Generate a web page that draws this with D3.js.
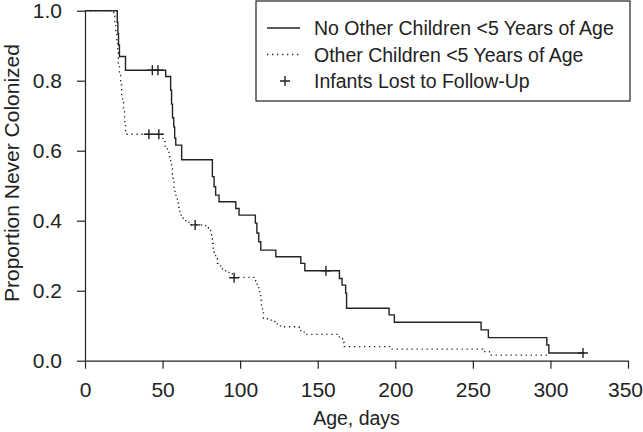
<!DOCTYPE html>
<html><head><meta charset="utf-8">
<script src="https://cdn.jsdelivr.net/npm/d3@7"></script>
<style>
body{margin:0;background:#fff}
text{font-family:"Liberation Sans",Arial,Helvetica,sans-serif;fill:#222}
</style>
</head><body>
<svg id="c" width="643" height="432"></svg>
<script>
// Kaplan-Meier step data (day at which the curve steps -> new proportion)
const noOtherTimes = [0,20.8,21.2,21.6,22.2,26.1,52.0,55.2,55.8,56.4,57.2,57.8,58.5,62.3,82.1,83.2,84.2,86.4,97.2,99.3,109.8,110.8,112.0,113.3,123.0,139.1,141.7,164.0,165.7,168.0,168.6,196.0,199.4,255.3,260.0,297.7,299.0];
const noOtherSurv  = [1,0.967,0.934,0.902,0.869,0.830,0.812,0.773,0.733,0.694,0.668,0.636,0.616,0.574,0.526,0.497,0.473,0.454,0.435,0.416,0.393,0.365,0.340,0.316,0.297,0.278,0.257,0.235,0.216,0.193,0.150,0.131,0.110,0.088,0.066,0.045,0.022];
const noOtherEnd = 322;
const noOtherCensorDays = [43.4,47.0,155.3,321.0];
const noOtherCensorSurv = [0.830,0.830,0.257,0.022];

const otherTimes = [0,18.6,19.2,19.8,20.5,21.1,21.5,22.2,23.0,23.6,24.2,24.8,25.5,26.2,50.2,51.6,53.1,54.1,55.2,55.8,56.3,56.8,57.3,58.0,58.6,59.5,60.4,61.2,62.0,62.7,64.9,67.0,77.8,79.5,81.0,81.6,82.1,82.7,83.2,84.2,85.3,86.4,88.6,90.7,92.8,95.0,110.0,111.0,112.0,112.6,113.3,113.8,114.4,115.0,117.6,121.5,124.0,126.0,138.0,141.3,164.0,166.0,167.0,197.0,256.4,260.7];
const otherSurv  = [1,0.985,0.962,0.938,0.910,0.882,0.850,0.815,0.788,0.760,0.738,0.711,0.683,0.647,0.626,0.613,0.602,0.583,0.564,0.548,0.531,0.512,0.493,0.478,0.464,0.450,0.438,0.426,0.416,0.407,0.397,0.388,0.380,0.372,0.362,0.349,0.335,0.321,0.307,0.292,0.278,0.271,0.262,0.257,0.250,0.238,0.228,0.218,0.207,0.188,0.173,0.159,0.140,0.121,0.116,0.112,0.105,0.097,0.086,0.075,0.064,0.052,0.040,0.033,0.026,0.016];
const otherEnd = 298.4;
const otherCensorDays = [41.2,47.6,71.0,96.1];
const otherCensorSurv = [0.647,0.647,0.388,0.237];

const xTicks = [0,50,100,150,200,250,300,350];
const yTicks = [0,0.2,0.4,0.6,0.8,1.0];
const legendLabels = ["No Other Children <5 Years of Age","Other Children <5 Years of Age","Infants Lost to Follow-Up"];
const xTitle = "Age, days";
const yTitle = "Proportion Never Colonized";

const svg = d3.select("#c");
const x = d3.scaleLinear().domain([0,350]).range([85,628]);
const y = d3.scaleLinear().domain([0,1]).range([360.7,10.7]);
const ink = "#222";
const tickFs = 21, titleFs = 19.5, yTitleFs = 21, legFs = 19.5;

// axes
const gx = svg.append("g").attr("transform",`translate(0,${y(0)})`)
  .call(d3.axisBottom(x).tickValues(xTicks).tickSize(8).tickPadding(13).tickSizeOuter(0));
const gy = svg.append("g").attr("transform",`translate(${x(0)},0)`)
  .call(d3.axisLeft(y).tickValues(yTicks).tickFormat(d3.format(".1f")).tickSize(8).tickPadding(15).tickSizeOuter(0));
[gx,gy].forEach(g=>{
  g.selectAll("path,line").attr("stroke",ink).attr("stroke-width",1.2);
  g.selectAll("text").attr("font-size",tickFs).attr("fill",ink).style("font-family",'"Liberation Sans",Arial,sans-serif');
});
// keep the last x tick label inside the 643px window
gx.selectAll(".tick text").filter(d=>d===350).attr("dx",-3);

svg.append("text").attr("x",(x(0)+x(350))/2).attr("y",425).attr("text-anchor","middle").attr("font-size",titleFs).text(xTitle);
svg.append("text").attr("transform",`translate(19,173) rotate(-90)`).attr("text-anchor","middle").attr("font-size",yTitleFs).text(yTitle);

const line = d3.line().x(d=>x(d[0])).y(d=>y(d[1])).curve(d3.curveStepAfter);
function pts(t,s,end){const p=t.map((d,i)=>[d,s[i]]);p.push([end,s[s.length-1]]);return p;}

svg.append("path").datum(pts(otherTimes,otherSurv,otherEnd)).attr("d",line)
  .attr("fill","none").attr("stroke",ink).attr("stroke-width",1.3).attr("stroke-dasharray","1.3,3.7");
svg.append("path").datum(pts(noOtherTimes,noOtherSurv,noOtherEnd)).attr("d",line)
  .attr("fill","none").attr("stroke",ink).attr("stroke-width",1.4);

function plus(g,cx,cy){
  g.append("path").attr("d",`M${cx-5},${cy}H${cx+5}M${cx},${cy-5}V${cy+5}`).attr("stroke",ink).attr("stroke-width",1.4).attr("fill","none");
}
const cg = svg.append("g");
noOtherCensorDays.forEach((d,i)=>plus(cg,x(d),y(noOtherCensorSurv[i])));
otherCensorDays.forEach((d,i)=>plus(cg,x(d),y(otherCensorSurv[i])));

// legend
const lg = svg.append("g");
lg.append("rect").attr("x",256).attr("y",1).attr("width",374).attr("height",100).attr("fill","#fff").attr("stroke",ink).attr("stroke-width",1.2);
const rows=[28,54.5,81];
lg.append("line").attr("x1",267).attr("x2",300).attr("y1",rows[0]).attr("y2",rows[0]).attr("stroke",ink).attr("stroke-width",1.4);
lg.append("line").attr("x1",267).attr("x2",300).attr("y1",rows[1]).attr("y2",rows[1]).attr("stroke",ink).attr("stroke-width",1.3).attr("stroke-dasharray","1.3,3.7");
plus(lg,285,rows[2]);
legendLabels.forEach((t,i)=>lg.append("text").attr("x",314).attr("y",rows[i]+7).attr("font-size",legFs).text(t));
</script>
</body></html>
